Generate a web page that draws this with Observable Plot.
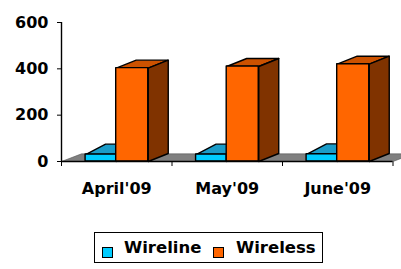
<!DOCTYPE html>
<html>
<head>
<meta charset="utf-8">
<script src="https://cdn.jsdelivr.net/npm/d3@7"></script>
<script src="https://cdn.jsdelivr.net/npm/@observablehq/plot@0.6"></script>
<style>
  html, body { margin: 0; padding: 0; background: #fff; }
  #wrap { position: relative; width: 401px; height: 269px; overflow: hidden; font-family: "DejaVu Sans", sans-serif; }
  #chart { position: absolute; left: 0; top: 0; }
  #legend { position: absolute; left: 94px; top: 232px; width: 229px; height: 31px; border: 1px solid #000; box-sizing: border-box; }
  .sw { position: absolute; top: 14px; width: 9px; height: 9px; border: 1.5px solid #000; }
  .lt { position: absolute; top: 5px; font-size: 16.5px; font-weight: bold; color: #000; line-height: 20px; white-space: nowrap; }
</style>
</head>
<body>
<div id="wrap">
  <div id="chart"></div>
  <div id="legend"></div>
</div>
<script>
const categories = ["April'09", "May'09", "June'09"];
const wireline = [30, 30, 31];
const wireless = [403, 410, 420];
const yTicks = [0, 200, 400, 600];
const seriesNames = ["Wireline", "Wireless"];
const frontColors = ["#00CCFF", "#FF6600"];
const topColors = ["#1A9CC8", "#CC5200"];
const sideColors = ["#0A6A8C", "#803300"];

// bar slot within each category (fraction of category) and 3D depth (data units)
const slots = [[0.218, 0.495], [0.495, 0.785]];
const depthX = 0.181;
const depthY = [45, 34.5];
const floorDepthY = 33;

const seriesValues = [wireline, wireless];

function faces(s) {
  const fronts = [], tops = [], sides = [];
  categories.forEach((c, i) => {
    const v = seriesValues[s][i];
    const x1 = i + slots[s][0], x2 = i + slots[s][1];
    const dy = depthY[s];
    fronts.push({x1, x2, y1: 0, y2: v, c});
    [[x1, v], [x2, v], [x2 + depthX, v + dy], [x1 + depthX, v + dy], [x1, v]]
      .forEach(([x, y]) => tops.push({id: c, x, y}));
    [[x2, 0], [x2 + depthX, dy], [x2 + depthX, v + dy], [x2, v], [x2, 0]]
      .forEach(([x, y]) => sides.push({id: c, x, y}));
  });
  return {fronts, tops, sides};
}

const n = categories.length;
const floor = [[0, 0], [n, 0], [n + depthX, floorDepthY], [depthX, floorDepthY], [0, 0]].map(([x, y]) => ({x, y}));

const marks = [
  Plot.line(floor, {x: "x", y: "y", fill: "#808080", stroke: "#555", strokeWidth: 0.6})
];
seriesNames.forEach((name, s) => {
  const f = faces(s);
  const sw = 1.4;
  if (s === 0) {
    marks.push(Plot.line(f.sides, {x: "x", y: "y", z: "id", fill: sideColors[s], stroke: "#000", strokeWidth: sw, strokeLinejoin: "round"}));
    marks.push(Plot.line(f.tops, {x: "x", y: "y", z: "id", fill: topColors[s], stroke: "#000", strokeWidth: sw, strokeLinejoin: "round"}));
  } else {
    marks.push(Plot.line(f.tops, {x: "x", y: "y", z: "id", fill: topColors[s], stroke: "#000", strokeWidth: sw, strokeLinejoin: "round"}));
    marks.push(Plot.line(f.sides, {x: "x", y: "y", z: "id", fill: sideColors[s], stroke: "#000", strokeWidth: sw, strokeLinejoin: "round"}));
  }
  marks.push(Plot.rect(f.fronts, {x1: "x1", x2: "x2", y1: "y1", y2: "y2", fill: frontColors[s], stroke: "#000", strokeWidth: sw, strokeLinejoin: "round"}));
});
marks.push(Plot.ruleY([0], {x1: 0, x2: n, stroke: "#000", strokeWidth: 1.4}));
marks.push(Plot.ruleX([0], {y1: 0, y2: yTicks[yTicks.length - 1], stroke: "#000", strokeWidth: 1.4}));
marks.push(Plot.text(categories, {
  x: (d, i) => i + 0.5, y: () => 0, text: d => d, dy: 27,
  fontSize: 16, fontWeight: "bold", fill: "#000", textAnchor: "middle", fontFamily: "DejaVu Sans"
}));

const chart = Plot.plot({
  width: 401,
  height: 200,
  marginLeft: 61,
  marginRight: 8.5,
  marginTop: 22,
  marginBottom: 39,
  style: {fontFamily: "DejaVu Sans", fontSize: "16px", fontWeight: "bold", color: "#000", background: "transparent", overflow: "visible"},
  x: {type: "linear", domain: [0, n], ticks: d3.range(n + 1), tickFormat: () => "", tickSize: 5, label: null},
  y: {domain: [0, 600], ticks: yTicks, tickSize: 4, tickPadding: 9, label: null, tickFormat: d3.format("d")},
  marks
});
document.getElementById("chart").appendChild(chart);

const legend = document.getElementById("legend");
const legendPos = [[7, 29], [118, 141]];
seriesNames.forEach((name, s) => {
  const sw = document.createElement("div");
  sw.className = "sw";
  sw.style.left = legendPos[s][0] + "px";
  sw.style.background = frontColors[s];
  legend.appendChild(sw);
  const t = document.createElement("div");
  t.className = "lt";
  t.style.left = legendPos[s][1] + "px";
  t.textContent = name;
  legend.appendChild(t);
});
</script>
</body>
</html>
